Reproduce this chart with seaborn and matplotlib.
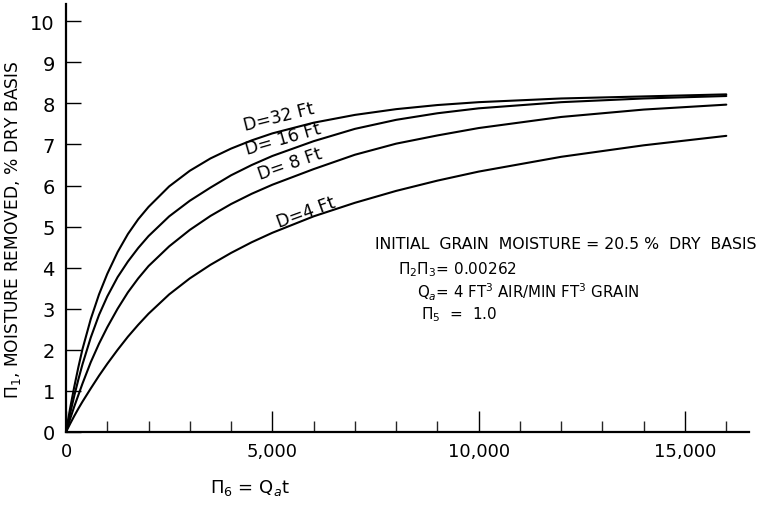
import numpy as np
import pandas as pd
import matplotlib
matplotlib.use("Agg")
import matplotlib.pyplot as plt
import seaborn as sns

# ---- data ----
x_vals = [0, 100, 200, 300, 400, 600, 800, 1000, 1250, 1500, 1750, 2000, 2500,
          3000, 3500, 4000, 4500, 5000, 6000, 7000, 8000, 9000, 10000, 12000,
          14000, 16000]
d32 = [0, 0.58, 1.10, 1.58, 2.02, 2.75, 3.35, 3.85, 4.38, 4.82, 5.18, 5.48,
       5.98, 6.36, 6.66, 6.90, 7.10, 7.27, 7.53, 7.72, 7.86, 7.96, 8.03, 8.12,
       8.17, 8.22]
d16 = [0, 0.45, 0.88, 1.28, 1.65, 2.30, 2.85, 3.30, 3.77, 4.15, 4.48, 4.77,
       5.25, 5.63, 5.95, 6.25, 6.50, 6.72, 7.08, 7.38, 7.60, 7.76, 7.88, 8.03,
       8.12, 8.18]
d8 = [0, 0.32, 0.62, 0.90, 1.18, 1.70, 2.15, 2.55, 3.00, 3.40, 3.74, 4.04,
      4.52, 4.92, 5.26, 5.55, 5.80, 6.02, 6.40, 6.75, 7.02, 7.22, 7.40, 7.67,
      7.85, 7.97]
d4 = [0, 0.20, 0.39, 0.57, 0.74, 1.06, 1.37, 1.66, 2.00, 2.32, 2.61, 2.88,
      3.35, 3.74, 4.07, 4.36, 4.62, 4.85, 5.25, 5.58, 5.87, 6.12, 6.34, 6.70,
      6.98, 7.21]

series_names = ["D=32 Ft", "D=16 Ft", "D=8 Ft", "D=4 Ft"]
series_vals = [d32, d16, d8, d4]

x_ticks_major = [0, 5000, 10000, 15000]
x_tick_labels = ["0", "5,000", "10,000", "15,000"]
y_ticks = list(range(0, 11))

# labels placed along curves: (x, y, rotation)
curve_labels = ["D=32 Ft", "D= 16 Ft", "D= 8 Ft", "D=4 Ft"]
label_pos = [(5150, 7.68, 14), (5250, 7.15, 16), (5420, 6.54, 19), (5820, 5.37, 20)]

# ---- build long table ----
rows = []
for name, vals in zip(series_names, series_vals):
    for xv, yv in zip(x_vals, vals):
        rows.append({"x": xv, "y": yv, "D": name})
df = pd.DataFrame(rows)

sns.set_style("white")
plt.rcParams["font.family"] = ["DejaVu Sans"]

fig = plt.figure(figsize=(7.7, 5.06), dpi=100)
ax = fig.add_axes([66 / 770, 1 - 433 / 506, 683 / 770, 428 / 506])

sns.lineplot(data=df, x="x", y="y", hue="D", palette=["black"] * 4,
             linewidth=1.5, legend=False, ax=ax, sort=False)

ax.set_xlim(0, 16550)
ax.set_ylim(0, 10.42)

for s in ["top", "right"]:
    ax.spines[s].set_visible(False)
for s in ["left", "bottom"]:
    ax.spines[s].set_color("black")
    ax.spines[s].set_linewidth(1.6)

ax.set_yticks(y_ticks)
ax.set_yticklabels([str(v) for v in y_ticks])
ax.set_xticks(x_ticks_major)
ax.set_xticklabels(x_tick_labels)
ax.set_xticks(np.arange(1000, 16001, 1000), minor=True)

ax.tick_params(axis="y", direction="in", length=11, width=1.0, pad=8,
               labelsize=14, left=True, colors="black")
ax.tick_params(axis="x", which="major", direction="in", length=15, width=1.0,
               pad=7, labelsize=13, bottom=True, colors="black")
ax.tick_params(axis="x", which="minor", direction="in", length=8, width=1.0,
               bottom=True)

ax.set_xlabel(r"$\Pi_6$ = Q$_a$t", fontsize=13, color="black")
ax.xaxis.set_label_coords(0.27, -0.105)
ax.set_ylabel(r"$\Pi_1$, MOISTURE REMOVED, % DRY BASIS", fontsize=12.3,
              color="black")
ax.yaxis.set_label_coords(-0.063, 0.475)

for txt, (lx, ly, rot) in zip(curve_labels, label_pos):
    ax.text(lx, ly, txt, rotation=rot, fontsize=12.5, ha="center", va="center",
            rotation_mode="anchor", color="black")

fig.text(375 / 770, 1 - 245 / 506, "INITIAL  GRAIN  MOISTURE = 20.5 %  DRY  BASIS",
         fontsize=11.3, ha="left", va="center", color="black")
fig.text(398 / 770, 1 - 270 / 506, r"$\Pi_2\Pi_3$= 0.00262",
         fontsize=11, ha="left", va="center", color="black")
fig.text(417 / 770, 1 - 292 / 506, r"Q$_a$= 4 FT$^3$ AIR/MIN FT$^3$ GRAIN",
         fontsize=10.8, ha="left", va="center", color="black")
fig.text(421 / 770, 1 - 315 / 506, r"$\Pi_5$  =  1.0",
         fontsize=11, ha="left", va="center", color="black")

fig.savefig("out.png", dpi=100, facecolor="white")
